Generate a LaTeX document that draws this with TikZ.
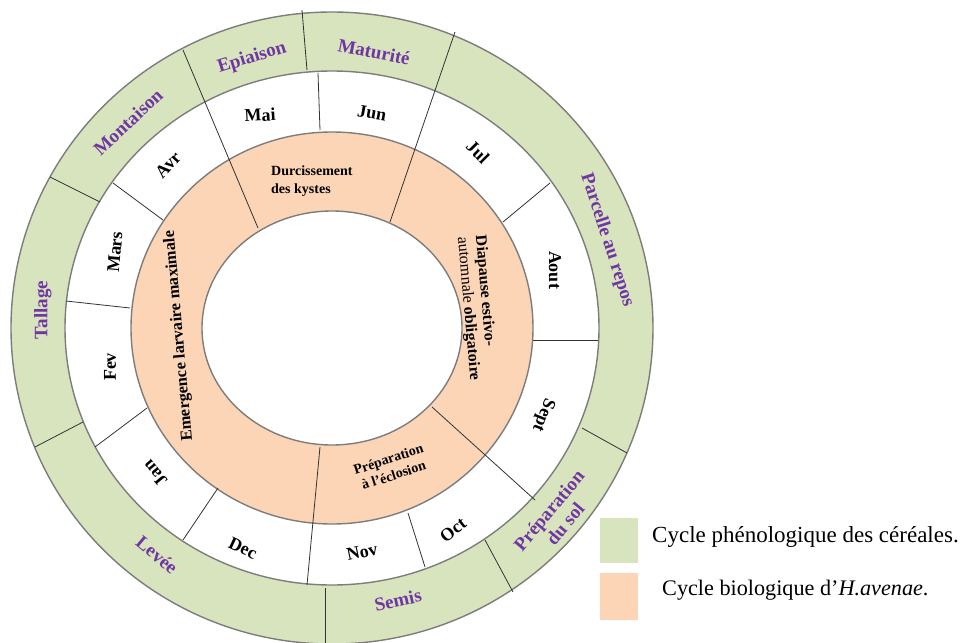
\documentclass[tikz,border=0pt]{standalone}
\usepackage{fontspec}
\setmainfont{Liberation Serif}
\definecolor{ringgreen}{RGB}{215,228,189}
\definecolor{ringorange}{RGB}{251,213,181}
\definecolor{lblpurple}{RGB}{112,55,162}
\definecolor{ringline}{RGB}{125,125,125}
\begin{document}
\begin{tikzpicture}[x=1pt,y=-1pt,
  ring/.style={draw=ringline,line width=1.4pt},
  divider/.style={draw=black!80,line width=0.8pt},
  phase/.style={font=\bfseries\fontsize{19}{21}\selectfont,text=lblpurple,inner sep=0pt,align=center},
  month/.style={font=\bfseries\fontsize{18}{20}\selectfont,inner sep=0pt},
  stage/.style={font=\bfseries\fontsize{14}{18}\selectfont,inner sep=0pt},
  legtext/.style={anchor=west,inner sep=0pt},
  legbox/.style={draw=none,inner sep=0pt}]
\useasboundingbox (0,0) rectangle (962,643);
\fill[white] (0,0) rectangle (962,643);
\coordinate (c) at (332,328);
% rings
\draw[ring,fill=ringgreen] (c) ellipse [x radius=321pt,y radius=316pt];
\draw[ring,fill=white] (c) ellipse [x radius=267pt,y radius=257pt];
\draw[ring,fill=ringorange] (c) ellipse [x radius=201pt,y radius=196pt];
\draw[ring,fill=white] (c) ellipse [x radius=130pt,y radius=117pt];
% long dividers through several rings
\draw[divider] (183,50) -- (258,228);
\draw[divider] (455,32) -- (390,222);
\draw[divider] (432,407) -- (535,500);
\draw[divider] (320,447) -- (307,585);
% month dividers
\draw[divider] (318,73) -- (320,130);
\draw[divider] (550,183) -- (503,222);
\draw[divider] (598,340) -- (533,340);
\draw[divider] (408,513) -- (425,567);
\draw[divider] (218,488) -- (183,540);
\draw[divider] (147,408) -- (95,447);
\draw[divider] (130,308) -- (66,301);
\draw[divider] (163,220) -- (113,183);
% phase dividers
\draw[divider] (302,10) -- (307,70);
\draw[divider] (627,453) -- (582,428);
\draw[divider] (513,592) -- (485,540);
\draw[divider] (325,588) -- (325,643);
\draw[divider] (35,447) -- (83,422);
\draw[divider] (50,177) -- (100,202);
% phase labels (outer ring)
\node[phase,rotate=17] (epi) at (252,58) {Epiaison};
\node[phase,rotate=-11] (mat) at (374,52) {Maturité};
\node[phase,rotate=-72] (parc) at (607,240) {Parcelle au repos};
\node[phase,rotate=50] (prep) at (557,517) {Préparation\\du sol};
\node[phase,rotate=12] (sem) at (398,600) {Semis};
\node[phase,rotate=-40] (lev) at (157,555) {Levée};
\node[phase,rotate=90] (tal) at (43,310) {Tallage};
\node[phase,rotate=43] (mont) at (128,122) {Montaison};
% months
\node[month,rotate=3] (mai) at (260,115) {Mai};
\node[month,rotate=-10] (jun) at (372,113) {Jun};
\node[month,rotate=-45] (jul) at (478,152) {Jul};
\node[month,rotate=-90] (aou) at (555,270) {Aout};
\node[month,rotate=-112] (sep) at (543,415) {Sept};
\node[month,rotate=38] (oct) at (453,530) {Oct};
\node[month,rotate=12] (nov) at (362,552) {Nov};
\node[month,rotate=-25] (dec) at (243,548) {Dec};
\node[month,rotate=130] (jan) at (155,473) {Jan};
\node[month,rotate=90] (fev) at (110,367) {Fev};
\node[month,rotate=85] (mar) at (115,252) {Mars};
\node[month,rotate=47] (avr) at (168,165) {Avr};
% biological stages (orange ring)
\node[stage,align=left,anchor=west] (dur) at (271,181) {Durcissement\\des kystes};
\node[stage,rotate=95,font=\bfseries\fontsize{16.5}{18}\selectfont] (emer) at (179,336) {Emergence larvaire maximale};
\node[stage,rotate=-85,align=left,font=\bfseries\fontsize{16}{18}\selectfont] (diap) at (477,308) {Diapause estivo-\\{\mdseries automnale} obligatoire};
\node[stage,rotate=18,align=center,font=\bfseries\fontsize{14}{17}\selectfont] (ecl) at (391,467) {Préparation\\à l’éclosion};
% legend
\node[legbox,fill=ringgreen,minimum width=38pt,minimum height=45pt] (lg) at (619,540.5) {};
\node[legbox,fill=ringorange,minimum width=38pt,minimum height=47pt] (lo) at (619,596.5) {};
\node[legtext,font=\fontsize{23}{25}\selectfont] (tg) at (652,537) {Cycle phénologique des céréales.};
\node[legtext,font=\fontsize{22.2}{24}\selectfont] (to) at (662,590) {Cycle biologique d’\textit{H.avenae}.};
\end{tikzpicture}
\end{document}
